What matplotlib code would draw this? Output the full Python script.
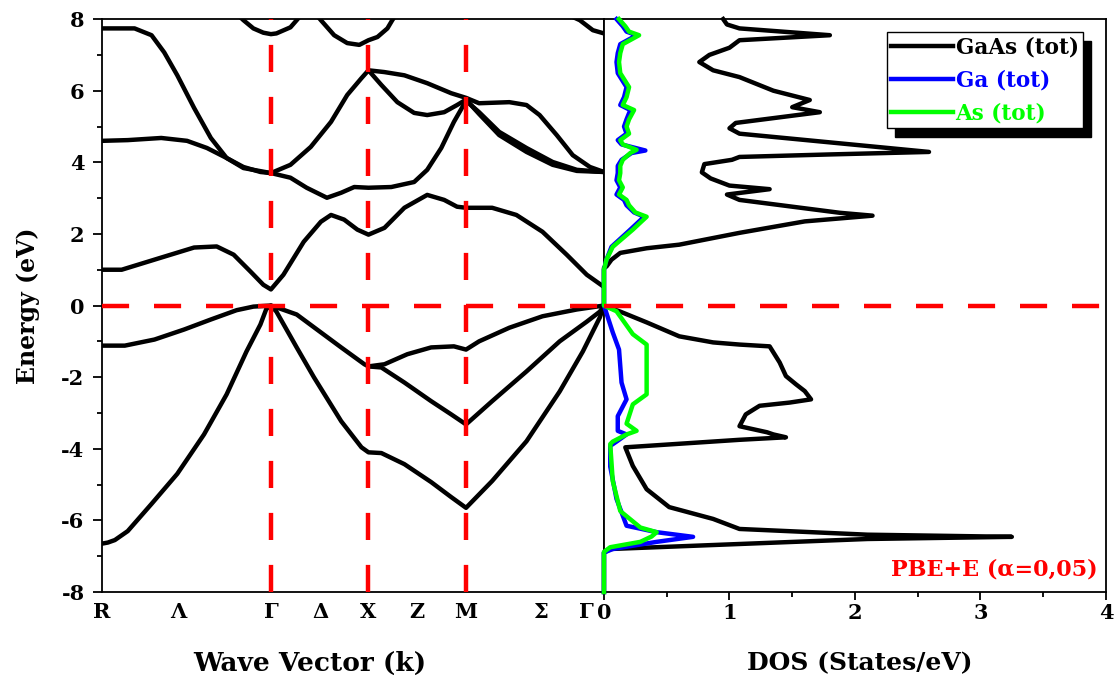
import matplotlib.pyplot as plt
from matplotlib.ticker import MultipleLocator

plt.rcParams['font.family'] = 'DejaVu Serif'
plt.rcParams['font.weight'] = 'bold'
plt.rcParams['axes.unicode_minus'] = False

# high symmetry points along the path (simple cubic)
k_nodes = [0.866, 1.366, 1.866]
k_ticks = [0.0, 0.39, 0.866, 1.12, 1.366, 1.616, 1.866, 2.25, 2.52]
k_labels = ['R', 'Λ', 'Γ', 'Δ', 'X', 'Z', 'M', 'Σ', 'Γ']

# valence bands
k_v1 = [0, 0.03, 0.066, 0.132, 0.254, 0.386, 0.523, 0.639, 0.741, 0.812, 0.842, 0.866,
        0.894, 0.998, 1.086, 1.226, 1.33, 1.366, 1.432, 1.55, 1.687, 1.79, 1.866,
        2.0, 2.176, 2.346, 2.465, 2.552, 2.573]
e_v1 = [-6.65, -6.62, -6.55, -6.3, -5.54, -4.7, -3.6, -2.48, -1.28, -0.53, -0.1, 0,
        -0.17, -1.17, -2.0, -3.23, -3.96, -4.1, -4.12, -4.43, -4.93, -5.35, -5.65,
        -4.9, -3.79, -2.4, -1.28, -0.33, 0]

k_v2 = [0, 0.117, 0.269, 0.421, 0.558, 0.69, 0.776, 0.866, 0.894, 0.998, 1.102, 1.226,
        1.345, 1.366, 1.432, 1.55, 1.687, 1.79, 1.866, 2.0, 2.176, 2.346, 2.485, 2.552, 2.573]
e_v2 = [-1.12, -1.12, -0.95, -0.67, -0.39, -0.13, -0.03, 0, -0.05, -0.25, -0.67, -1.17,
        -1.64, -1.7, -1.73, -2.15, -2.67, -3.04, -3.32, -2.67, -1.84, -1.0, -0.45, -0.17, 0]

k_v3 = [1.366, 1.448, 1.565, 1.687, 1.804, 1.866, 1.933, 2.088, 2.258, 2.434, 2.573]
e_v3 = [-1.7, -1.64, -1.36, -1.17, -1.14, -1.23, -1.0, -0.62, -0.3, -0.11, 0]

# conduction bands
k_c1 = [0, 0.101, 0.304, 0.472, 0.588, 0.675, 0.761, 0.827, 0.866, 0.93, 1.034, 1.122,
        1.174, 1.241, 1.309, 1.366, 1.448, 1.55, 1.667, 1.754, 1.82, 1.866, 2.0, 2.124,
        2.258, 2.382, 2.485, 2.573]
e_c1 = [1.0, 1.0, 1.34, 1.62, 1.65, 1.42, 0.95, 0.58, 0.45, 0.86, 1.78, 2.34,
        2.53, 2.4, 2.12, 1.98, 2.17, 2.73, 3.09, 2.95, 2.76, 2.73, 2.73, 2.53,
        2.06, 1.42, 0.86, 0.52]

k_c2 = [0, 0.132, 0.304, 0.436, 0.538, 0.639, 0.725, 0.812, 0.866, 0.966, 1.049, 1.153,
        1.226, 1.293, 1.366, 1.483, 1.6, 1.667, 1.739, 1.804, 1.866, 1.933, 2.036, 2.176,
        2.31, 2.434, 2.573]
e_c2 = [4.6, 4.62, 4.68, 4.6, 4.4, 4.12, 3.87, 3.73, 3.7, 3.57, 3.29, 3.01,
        3.15, 3.31, 3.29, 3.31, 3.45, 3.79, 4.4, 5.13, 5.72, 5.4, 4.85, 4.4,
        4.01, 3.79, 3.73]

k_c3 = [0, 0.167, 0.254, 0.319, 0.386, 0.472, 0.558, 0.639, 0.725, 0.866, 0.966, 1.07,
        1.174, 1.257, 1.33, 1.366, 1.432, 1.514, 1.6, 1.667, 1.754, 1.82, 1.866, 1.933,
        2.036, 2.176, 2.31, 2.434, 2.573]
e_c3 = [7.74, 7.74, 7.55, 7.07, 6.43, 5.52, 4.68, 4.12, 3.84, 3.7, 3.93, 4.43,
        5.13, 5.88, 6.35, 6.57, 6.16, 5.68, 5.38, 5.32, 5.4, 5.6, 5.75, 5.35,
        4.76, 4.29, 3.93, 3.76, 3.73]

k_c4 = [1.366, 1.448, 1.55, 1.667, 1.79, 1.866, 1.933, 2.088, 2.176, 2.243, 2.331,
        2.413, 2.501, 2.573]
e_c4 = [6.57, 6.52, 6.43, 6.21, 5.93, 5.8, 5.65, 5.68, 5.6, 5.32, 4.76,
        4.2, 3.87, 3.73]

k_u1 = [0.7, 0.725, 0.776, 0.827, 0.866, 0.894, 0.966, 0.998, 1.018]
e_u1 = [8.1, 7.97, 7.74, 7.62, 7.58, 7.6, 7.77, 7.97, 8.1]
k_u2 = [1.102, 1.122, 1.19, 1.257, 1.319, 1.366, 1.412, 1.463, 1.488, 1.504]
e_u2 = [8.1, 7.97, 7.55, 7.33, 7.28, 7.41, 7.5, 7.74, 7.97, 8.1]
k_u3 = [2.397, 2.449, 2.516, 2.573]
e_u3 = [8.1, 7.97, 7.69, 7.6]

bands = [(k_v1, e_v1), (k_v2, e_v2), (k_v3, e_v3), (k_c1, e_c1), (k_c2, e_c2),
         (k_c3, e_c3), (k_c4, e_c4), (k_u1, e_u1), (k_u2, e_u2), (k_u3, e_u3)]

# density of states
e_tot = [-8.0, -6.9, -6.8, -6.66, -6.52, -6.46, -6.4, -6.24, -5.96, -5.63, -5.13, -4.48,
         -3.96, -3.75, -3.68, -3.6, -3.54, -3.37, -3.04, -2.8, -2.71, -2.62, -2.39, -2.2,
         -1.97, -1.59, -1.14, -1.09, -1.03, -0.86, -0.47, -0.17, 0.0, 1.05, 1.09, 1.28,
         1.47, 1.6, 1.7, 2.03, 2.35, 2.51, 2.59, 2.95, 3.1, 3.25, 3.35, 3.55, 3.72, 3.95,
         4.07, 4.15, 4.22, 4.29, 4.53, 4.8, 4.95, 5.1, 5.4, 5.54, 5.74, 6.0, 6.38, 6.57,
         6.8, 7.0, 7.2, 7.41, 7.55, 7.74, 7.85, 8.0]
dos_tot = [0, 0, 0.05, 1.08, 2.1, 3.25, 2.1, 1.08, 0.87, 0.52, 0.34, 0.23,
           0.17, 1.08, 1.45, 1.35, 1.3, 1.08, 1.13, 1.24, 1.48, 1.65, 1.6, 1.53,
           1.45, 1.4, 1.32, 1.08, 0.87, 0.6, 0.34, 0.13, 0, 0, 0.02, 0.06,
           0.13, 0.34, 0.6, 1.08, 1.6, 2.14, 1.88, 1.08, 0.98, 1.32, 1.0, 0.85, 0.78, 0.8,
           1.02, 1.08, 1.8, 2.59, 1.88, 1.08, 1.0, 1.05, 1.72, 1.5, 1.64, 1.35, 1.08, 0.87,
           0.76, 0.84, 1.0, 1.08, 1.8, 1.08, 0.98, 0.95]

e_ga = [-8.0, -6.9, -6.8, -6.6, -6.46, -6.33, -6.15, -5.4, -4.5, -3.92, -3.8, -3.6, -3.5,
        -3.09, -2.62, -2.15, -1.23, -0.75, 0.0, 1.0, 1.28, 1.64, 2.12, 2.35, 2.48, 2.6,
        2.8, 2.95, 3.1, 3.3, 3.5, 3.7, 3.9, 4.07, 4.26, 4.33, 4.5, 4.62, 4.8, 5.0, 5.2,
        5.46, 5.6, 5.82, 6.1, 6.49, 6.8, 7.05, 7.3, 7.55, 7.65, 7.8, 8.0]
dos_ga = [0, 0, 0.07, 0.42, 0.71, 0.42, 0.18, 0.1, 0.05, 0.05, 0.1, 0.18, 0.11,
          0.11, 0.18, 0.14, 0.12, 0.07, 0, 0, 0.02, 0.06, 0.21, 0.28, 0.32, 0.24,
          0.18, 0.16, 0.1, 0.13, 0.1, 0.11, 0.11, 0.14, 0.22, 0.33, 0.14, 0.11, 0.18, 0.16, 0.18,
          0.21, 0.13, 0.16, 0.18, 0.11, 0.1, 0.11, 0.13, 0.26, 0.18, 0.15, 0.1]

e_as = [-8.0, -6.88, -6.75, -6.6, -6.45, -6.33, -6.2, -5.74, -4.9, -3.87, -3.8, -3.6, -3.5,
        -3.3, -2.76, -2.48, -1.09, -0.8, -0.16, 0.0, 1.0, 1.28, 1.64, 2.12, 2.35, 2.48,
        2.6, 2.8, 2.95, 3.1, 3.3, 3.5, 3.7, 3.9, 4.07, 4.26, 4.35, 4.5, 4.62, 4.8, 5.0,
        5.2, 5.46, 5.6, 5.82, 6.1, 6.49, 6.8, 7.05, 7.3, 7.55, 7.65, 7.8, 8.0]
dos_as = [0, 0, 0.05, 0.29, 0.38, 0.42, 0.29, 0.13, 0.07, 0.05, 0.07, 0.18, 0.26,
          0.18, 0.23, 0.34, 0.34, 0.23, 0.1, 0, 0, 0.02, 0.07, 0.23, 0.3, 0.34,
          0.25, 0.2, 0.18, 0.12, 0.15, 0.12, 0.13, 0.13, 0.15, 0.21, 0.26, 0.15, 0.13, 0.2, 0.18,
          0.2, 0.24, 0.15, 0.18, 0.2, 0.13, 0.12, 0.13, 0.15, 0.28, 0.2, 0.17, 0.12]

fig = plt.figure(figsize=(11.17, 6.82), dpi=100)
ax1 = fig.add_axes([0.0913, 0.132, 0.4494, 0.840])
ax2 = fig.add_axes([0.5407, 0.132, 0.4494, 0.840])

red_dash = (0, (6.1, 5.6))

# band structure
for k, e in bands:
    ax1.plot(k, e, color='black', lw=3.2, solid_joinstyle='round', solid_capstyle='round')
for kn in k_nodes:
    ax1.plot([kn, kn], [-8, 8], color='red', lw=3.2, linestyle=red_dash, zorder=5)
ax1.plot([0, 2.573], [0, 0], color='red', lw=3.2, linestyle=red_dash, zorder=5)

ax1.set_xlim(0, 2.573)
ax1.set_ylim(-8, 8)
ax1.set_xticks(k_ticks)
ax1.set_xticklabels(k_labels)
ax1.tick_params(axis='x', length=0, pad=7, labelsize=15)
ax1.yaxis.set_major_locator(MultipleLocator(2))
ax1.yaxis.set_minor_locator(MultipleLocator(1))
ax1.tick_params(axis='y', which='major', direction='out', length=6.5, width=1.3, labelsize=15, pad=6)
ax1.tick_params(axis='y', which='minor', direction='out', length=3.5, width=1.3)
ax1.xaxis.get_major_ticks()[-1].label1.set_horizontalalignment('right')
ax1.set_xlabel('Wave Vector (k)', fontsize=19, fontweight='bold')
ax1.xaxis.set_label_coords(0.414, -0.124)
ax1.xaxis.label.set_va('center')
ax1.set_ylabel('Energy (eV)', fontsize=17, fontweight='bold')
ax1.yaxis.set_label_coords(-0.147, 0.5)
ax1.yaxis.label.set_va('center')

# DOS
ax2.plot(dos_tot, e_tot, color='black', lw=3.2, label='GaAs (tot)', clip_on=False, zorder=3)
ax2.plot(dos_ga, e_ga, color='#0000ff', lw=3.2, label='Ga (tot)', clip_on=False, zorder=4)
ax2.plot(dos_as, e_as, color='#00ff00', lw=3.2, label='As (tot)', clip_on=False, zorder=4.5)
ax2.plot([0, 4], [0, 0], color='red', lw=3.2, linestyle=red_dash, zorder=5)

ax2.set_xlim(0, 4)
ax2.set_ylim(-8, 8)
ax2.xaxis.set_major_locator(MultipleLocator(1))
ax2.xaxis.set_minor_locator(MultipleLocator(0.5))
ax2.tick_params(axis='x', which='major', direction='out', length=6, width=1.3, labelsize=15, pad=2)
ax2.tick_params(axis='x', which='minor', direction='out', length=3.5, width=1.3)
ax2.tick_params(axis='y', which='both', left=False, labelleft=False)
ax2.xaxis.get_major_ticks()[0].label1.set_horizontalalignment('left')
ax2.set_xlabel('DOS (States/eV)', fontsize=18, fontweight='bold')
ax2.xaxis.set_label_coords(0.51, -0.124)
ax2.xaxis.label.set_va('center')

for ax in (ax1, ax2):
    for s in ax.spines.values():
        s.set_linewidth(1.3)

leg = ax2.legend(loc='upper right', bbox_to_anchor=(0.954, 0.977), borderaxespad=0,
                 fontsize=15.5, frameon=True, fancybox=False, edgecolor='black',
                 framealpha=1, labelcolor='linecolor', handlelength=2.9,
                 handletextpad=0.1, labelspacing=0.5, borderpad=0.2,
                 shadow={'color': 'black', 'alpha': 1, 'ox': 6, 'oy': -6})
leg.get_frame().set_linewidth(1.0)
for t in leg.get_texts():
    t.set_fontweight('bold')

ax2.text(0.984, 0.04, 'PBE+E (α=0,05)', transform=ax2.transAxes, ha='right', va='center',
         color='red', fontsize=16, fontweight='bold')

fig.savefig('out.png', dpi=100)
